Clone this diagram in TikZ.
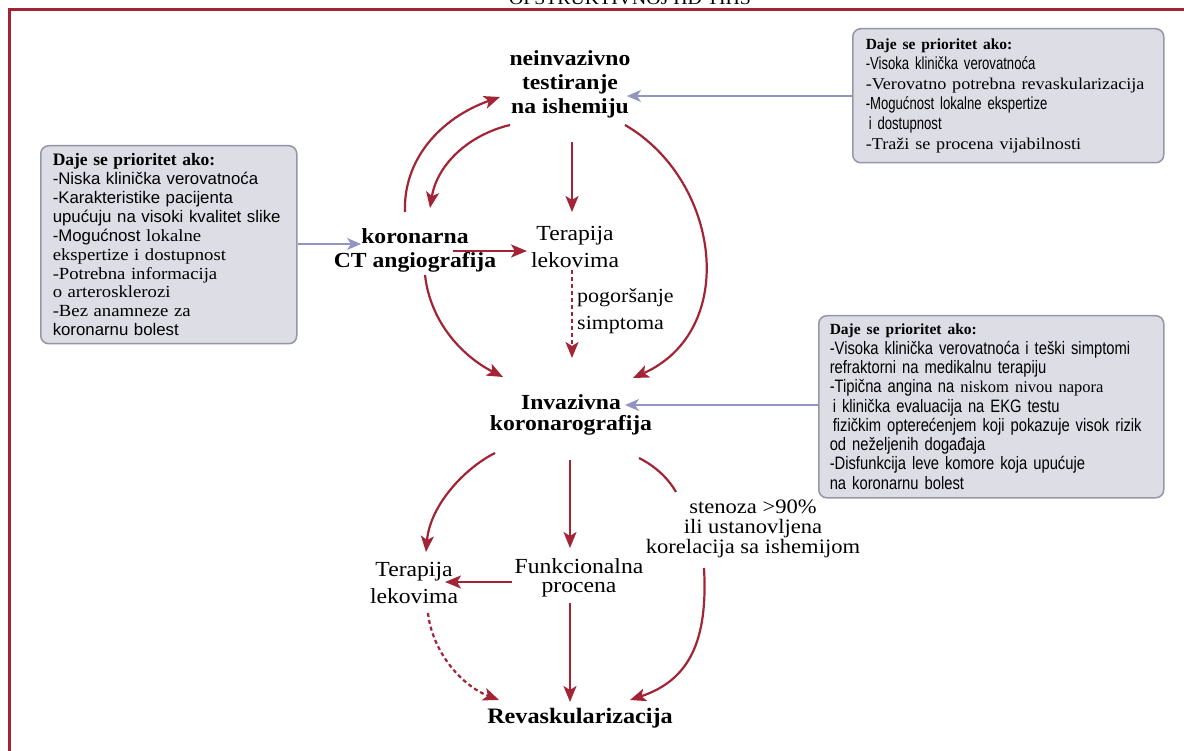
\documentclass[tikz,border=0pt]{standalone}
\usepackage{fontspec}
\setmainfont{Liberation Serif}
\usetikzlibrary{arrows.meta,calc}
\newfontfamily\lblfont[FakeStretch=1.1]{Liberation Serif}
\newfontfamily\boxsans{Liberation Sans}
\newfontfamily\boxnarrow[FakeStretch=0.75]{Liberation Sans}
\newfontfamily\boxnarrowb[FakeStretch=0.82]{Liberation Sans}
\newfontfamily\boxserif{Liberation Serif}
\newfontfamily\boxserifw[FakeStretch=1.1]{Liberation Serif}
\definecolor{arrred}{RGB}{163,36,52}
\definecolor{lavarrow}{RGB}{148,148,196}
\definecolor{boxfill}{RGB}{221,221,230}
\definecolor{boxline}{RGB}{150,150,168}
\definecolor{framered}{RGB}{160,36,52}
\newcommand{\lserif}[1]{{\boxserifw\fontsize{17}{18.9}\selectfont #1}}
\tikzset{
  redline/.style={draw=arrred, line width=2.2pt},
  redarr/.style={redline, -{Stealth[length=16pt,width=13pt,inset=4pt]}},
  reddash/.style={redarr, dash pattern=on 4pt off 3pt},
  lavarr/.style={draw=lavarrow, line width=1.6pt, -{Stealth[length=14pt,width=12pt,inset=4pt]}},
  prio/.style={draw=boxline, line width=1.5pt, fill=boxfill, rounded corners=8pt, anchor=north west, align=left, inner ysep=3pt},
  lblb/.style={font=\lblfont\bfseries\fontsize{21.5}{24}\selectfont, align=center, inner sep=0pt},
  lblr/.style={font=\lblfont\fontsize{21.5}{27}\selectfont, align=center, inner sep=0pt}
}
\begin{document}
\begin{tikzpicture}[x=1pt,y=-1pt]
\useasboundingbox (0,0) rectangle (1184,751);
\fill[white] (0,0) rectangle (1184,751);
% cut title and frame
\node[font=\lblfont\fontsize{18}{18}\selectfont, anchor=base, inner sep=0pt] (title) at (630,5) {OPSTRUKTIVNOJ HD TIHS};
\draw[framered, line width=3pt] (9,751) -- (9,10) -- (1184,10);

% boxes
\node[prio, inner xsep=12pt, text width=232pt, minimum height=198pt, font=\boxsans\fontsize{16.8}{18.9}\selectfont] (boxL) at (40,145)
{{\boxserif\bfseries\fontsize{17.5}{18.9}\selectfont Daje se prioritet ako:}\\
-Niska klinička verovatnoća\\
-Karakteristike pacijenta\\
upućuju na visoki kvalitet slike\\
-Mogućnost \lserif{lokalne}\\
\lserif{ekspertize i dostupnost}\\
\lserif{-Potrebna informacija}\\
\lserif{o arterosklerozi}\\
\lserif{-Bez anamneze za}\\
koronarnu bolest};

\node[prio, inner xsep=13pt, text width=285pt, minimum height=134pt, font=\boxnarrow\fontsize{17.5}{20}\selectfont] (boxTR) at (852,28)
{{\boxserif\bfseries\fontsize{15.5}{20}\selectfont Daje se prioritet ako:}\\
-Visoka klinička verovatnoća\\
{\boxserifw\fontsize{16.5}{20}\selectfont -Verovatno potrebna revaskularizacija}\\
-Mogućnost lokalne ekspertize\\
\hspace*{3pt}i dostupnost\\
{\boxserifw\fontsize{16.5}{20}\selectfont -Traži se procena vijabilnosti}};

\node[prio, inner xsep=11pt, text width=323pt, minimum height=182pt, font=\boxnarrowb\fontsize{18}{19.3}\selectfont] (boxMR) at (818,315)
{{\boxserif\bfseries\fontsize{15.5}{19.3}\selectfont Daje se prioritet ako:}\\
-Visoka klinička verovatnoća i teški simptomi\\
refraktorni na medikalnu terapiju\\
-Tipična angina na {\boxserif\fontsize{16.5}{19.3}\selectfont niskom nivou napora}\\
\hspace*{3pt}i klinička evaluacija na EKG testu\\
\hspace*{3pt}fizičkim opterećenjem koji pokazuje visok rizik\\
od neželjenih događaja\\
-Disfunkcija leve komore koja upućuje\\
na koronarnu bolest};

% main labels
\node[lblb] (neinv) at (570,84) {neinvazivno\\testiranje\\na ishemiju};
\node[lblb] (ct) at (415,250) {koronarna\\CT angiografija};
\node[lblr] (ter1) at (575,247) {Terapija\\lekovima};
\node[lblr, anchor=west, align=left, font=\lblfont\fontsize{20}{27}\selectfont] (pog) at (577,311) {pogoršanje\\simptoma};
\node[lblb, font=\lblfont\bfseries\fontsize{21.5}{20.5}\selectfont] (inv) at (571,415) {Invazivna\\koronarografija};
\node[lblr] (ter2) at (414,583) {Terapija\\lekovima};
\node[lblr, font=\lblfont\fontsize{21.5}{19.5}\selectfont] (fun) at (579,578) {Funkcionalna\\procena};
\node[lblr, font=\lblfont\fontsize{20.5}{20}\selectfont] (sten) at (753,529) {stenoza >90\%\\ili ustanovljena\\korelacija sa ishemijom};
\node[lblb, font=\lblfont\bfseries\fontsize{22}{24}\selectfont] (rev) at (580,718) {Revaskularizacija};

% arrow end points
\coordinate (neinvin) at ($(neinv)+(57,12)$);
\coordinate (ctin) at ($(ct)+(-54,-6)$);
\coordinate (invin) at ($(inv)+(54,-10)$);

% lavender arrows
\draw[lavarr] (boxTR.west |- neinvin) -- (neinvin);
\draw[lavarr] (boxL.east |- ctin) -- (ctin);
\draw[lavarr] (boxMR.west |- invin) -- (invin);

% red arrows, upper part
\draw[redarr] ($(ct)+(-10,-38)$) .. controls (403,160) and (440,118) .. ($(neinv)+(-70,13)$);
\draw[redarr] ($(neinv)+(-60,41)$) .. controls (468,135) and (437,165) .. ($(ct)+(15,-42)$);
\draw[redarr] ($(neinv)+(2,58)$) -- ($(ter1)+(-3,-35)$);
\draw[redarr] ($(ct)+(38,1)$) -- ($(ter1)+(-48,4)$);
\draw[reddash] ($(ter1)+(-3,23)$) -- ($(inv)+(1,-57)$);
\draw[redarr] ($(ct)+(10,25)$) .. controls (430,320) and (460,355) .. ($(inv)+(-68,-38)$);
\draw[redarr] ($(neinv)+(55,41)$) .. controls (720,180) and (740,330) .. ($(inv)+(62,-37)$);

% red arrows, lower part
\draw[redarr] ($(inv)+(-76,38)$) .. controls (465,468) and (430,505) .. ($(ter2)+(12,-31)$);
\draw[redarr] ($(inv)+(-1,45)$) -- ($(fun)+(-9,-30)$);
\draw[redarr] ($(fun)+(-67,4)$) -- ($(ter2)+(31,-1)$);
\draw[redarr] ($(fun)+(-9,25)$) -- ($(rev)+(-10,-16)$);
\draw[reddash] ($(ter2)+(14,30)$) .. controls (432,650) and (460,685) .. ($(rev)+(-81,-18)$);
\draw[redline] ($(inv)+(68,43)$) .. controls (655,466) and (668,478) .. ($(sten)+(-77,-37)$);
\draw[redarr] ($(sten)+(-49,39)$) .. controls (708,640) and (690,680) .. ($(rev)+(50,-18)$);
\end{tikzpicture}
\end{document}
